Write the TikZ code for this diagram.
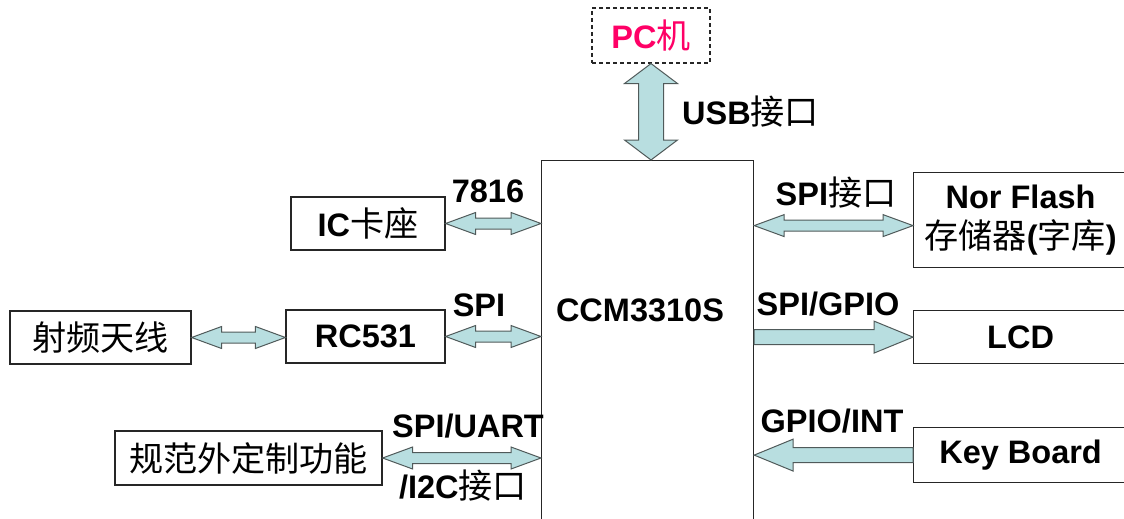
\documentclass[tikz,border=0pt]{standalone}
\usepackage{fontspec}
\setmainfont{Liberation Sans}
\newfontfamily\zhfont[Scale=1.05]{Noto Sans CJK SC}
\usepackage{tikz}
\usetikzlibrary{calc}
\definecolor{pipefill}{RGB}{184,222,224}
\definecolor{pipeedge}{RGB}{80,90,90}
\definecolor{pccolor}{RGB}{255,0,102}
\newcommand{\zh}[1]{{\zhfont\mdseries #1}}
\newcommand{\blockfont}{\bfseries\fontsize{32.5}{40}\selectfont}
\tikzset{
  blockbox/.style={draw=black!85, line width=1.2pt, inner sep=0pt, minimum height=53pt, font=\blockfont},
  pcbox/.style={draw=black!85, line width=1.1pt, dash pattern=on 4pt off 3pt, inner sep=0pt, font=\blockfont, text=pccolor},
  busname/.style={inner sep=0pt, font=\blockfont},
  fatarrow/.style={draw=pipeedge, fill=pipefill, line width=1pt, line join=miter},
}
% two heads, left point first
\newcommand{\twoway}[2]{%
  \draw[fatarrow] let \p1=(#1), \p2=(#2), \p3=($(#1)!30pt!(#2)$), \p4=($(#2)!30pt!(#1)$) in
    (\x1,\y1) -- (\x3,\y1+11pt) -- (\x3,\y1+5.5pt) -- (\x4,\y1+5.5pt) -- (\x4,\y1+11pt)
    -- (\x2,\y1) -- (\x4,\y1-11pt) -- (\x4,\y1-5.5pt) -- (\x3,\y1-5.5pt) -- (\x3,\y1-11pt) -- cycle;
}
% one head, at the second point
\newcommand{\oneway}[2]{%
  \draw[fatarrow] let \p1=(#1), \p2=(#2), \p3=($(#2)!39pt!(#1)$) in
    (\x1,\y1+7.5pt) -- (\x3,\y1+7.5pt) -- (\x3,\y1+16pt) -- (\x2,\y1)
    -- (\x3,\y1-16pt) -- (\x3,\y1-7.5pt) -- (\x1,\y1-7.5pt) -- cycle;
}
% two heads, vertical, top point first
\newcommand{\updown}[2]{%
  \draw[fatarrow] let \p1=(#1), \p2=(#2) in
    (\x1,\y1) -- (\x1+26.5pt,\y1-20pt) -- (\x1+12.5pt,\y1-20pt) -- (\x1+12.5pt,\y2+20pt)
    -- (\x1+26.5pt,\y2+20pt) -- (\x1,\y2) -- (\x1-26.5pt,\y2+20pt) -- (\x1-12.5pt,\y2+20pt)
    -- (\x1-12.5pt,\y1-20pt) -- (\x1-26.5pt,\y1-20pt) -- cycle;
}

\begin{document}
\begin{tikzpicture}[x=1pt, y=-1pt]
  \useasboundingbox (0,0) rectangle (1124,519);
  \clip (0,0) rectangle (1124,519);
  % Controller
  \node[blockbox, minimum width=212pt, minimum height=380pt, anchor=north west] (ccm) at (541,160) {};
  \node[busname] (ccmname) at (640,310) {CCM3310S};
  % Host on top
  \node[pcbox, minimum width=118pt, minimum height=55pt] (pc) at (651,35.5) {PC\zh{机}};
  \coordinate (usbport) at (pc.south |- ccm.north);
  \updown{pc.south}{usbport}
  \node[busname, anchor=west] (usb) at (682,112) {USB\zh{接口}};
  % Left side
  \node[blockbox, minimum width=154pt] (ic) at (368,223.5) {IC\zh{卡座}};
  \coordinate (icport) at (ic.east -| ccm.west);
  \twoway{ic.east}{icport}
  \node[busname] (iso) at (488,191) {7816};
  \node[blockbox, minimum width=181pt] (rf) at (100.5,337.5) {\zh{射频天线}};
  \node[blockbox, minimum width=159pt] (rc) at (365.5,336.5) {RC531};
  \twoway{rf.east}{rc.west}
  \coordinate (rcport) at (rc.east -| ccm.west);
  \twoway{rc.east}{rcport}
  \node[busname] (spi) at (479,305) {SPI};
  \node[blockbox, minimum width=267pt, minimum height=54pt] (ext) at (248.5,458) {\zh{规范外定制功能}};
  \coordinate (extport) at (ext.east -| ccm.west);
  \twoway{ext.east}{extport}
  \node[busname] (uart) at (468,426) {SPI/UART};
  \node[busname] (i2c) at (463,486) {/I2C\zh{接口}};
  % Right side
  \node[blockbox, minimum width=214pt, minimum height=95pt, align=center, anchor=north west] (flash) at (913,172) {Nor Flash\hspace{14pt}\\\zh{存储器}(\zh{字库})};
  \coordinate (flashport) at ([yshift=-5.5pt]flash.west);
  \coordinate (flashbus) at (flashport -| ccm.east);
  \twoway{flashbus}{flashport}
  \node[busname] (spiif) at (836,193) {SPI\zh{接口}};
  \node[blockbox, minimum width=214pt, anchor=north west] (lcd) at (913,310) {LCD};
  \coordinate (lcdbus) at (lcd.west -| ccm.east);
  \oneway{lcdbus}{lcd.west}
  \node[busname] (gpio) at (828,304) {SPI/GPIO};
  \node[blockbox, minimum width=214pt, minimum height=55pt, anchor=north west] (kb) at (913,427) {Key Board};
  \coordinate (kbbus) at (kb.west -| ccm.east);
  \oneway{kb.west}{kbbus}
  \node[busname] (irq) at (832,421) {GPIO/INT};
\end{tikzpicture}
\end{document}
